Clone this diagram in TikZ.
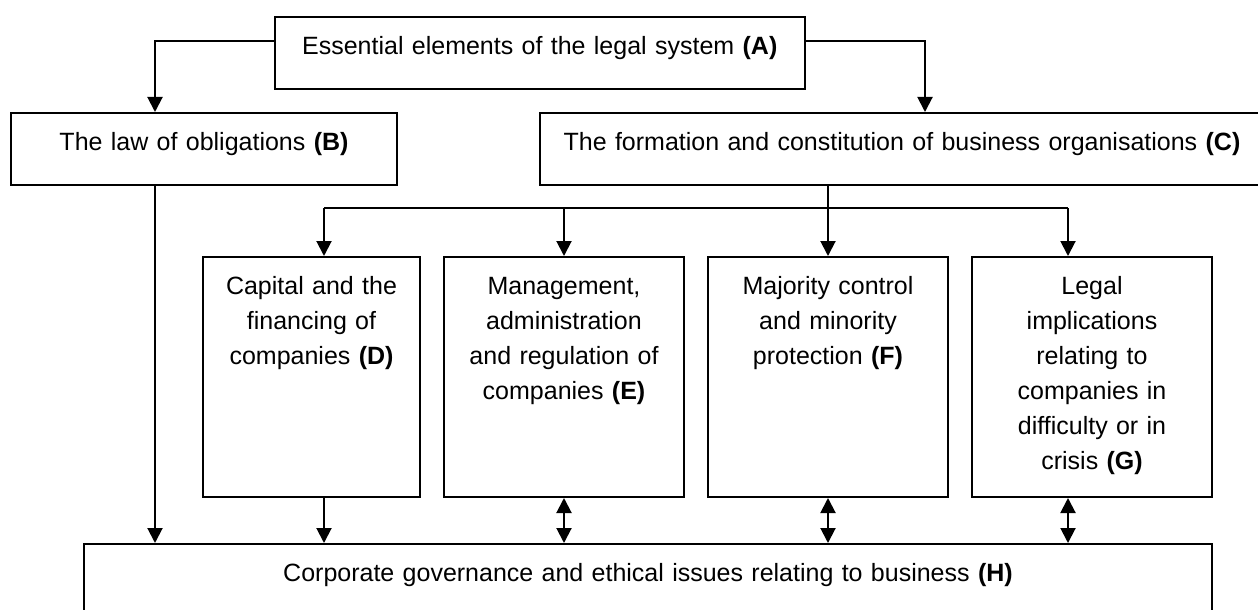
\documentclass[tikz,border=0pt]{standalone}
\usepackage{fontspec}
\setmainfont{Liberation Sans}
\usetikzlibrary{arrows.meta}

\begin{document}
\begin{tikzpicture}[x=0.5pt,y=-0.5pt,line width=1pt,
    box/.style={draw,inner sep=0pt,align=center,anchor=north west,
        font=\fontsize{12.5pt}{17.5pt}\selectfont,text height=18.75pt},
    >={Triangle[length=7.5pt,width=7.5pt]}]
    \useasboundingbox (0,0) rectangle (1258,610);

    \node[box,minimum width=264.75pt,text width=256pt,text depth=17.25pt](a) at (274,16)
        {Essential elements of the legal system \textbf{(A)}};
    \node[box,minimum width=193pt,text width=185pt,text depth=17.25pt](b) at (10,112)
        {The law of obligations \textbf{(B)}};
    \node[box,minimum width=362pt,text width=354pt,text depth=17.25pt](c) at (539,112)
        {The formation and constitution of business organisations \textbf{(C)}};

    \node[box,minimum width=108.5pt,text width=102pt,text depth=101.25pt](d) at (202,256)
        {Capital and the\\ financing of\\ companies \textbf{(D)}};
    \node[box,minimum width=120pt,text width=114pt,text depth=101.25pt](e) at (443,256)
        {Management,\\ administration\\ and regulation of\\ companies \textbf{(E)}};
    \node[box,minimum width=120pt,text width=114pt,text depth=101.25pt](f) at (707,256)
        {Majority control\\ and minority\\ protection \textbf{(F)}};
    \node[box,minimum width=120pt,text width=114pt,text depth=101.25pt](g) at (971,256)
        {Legal\\ implications\\ relating to\\ companies in\\ difficulty or in\\ crisis \textbf{(G)}};

    \node[box,minimum width=564pt,text width=556pt,text depth=22pt](h) at (83,543)
        {Corporate governance and ethical issues relating to business \textbf{(H)}};

    \draw[->]([yshift=6pt]a.west) -| ([xshift=-24.5pt]b.north);
    \draw[->]([yshift=6pt]a.east) -| ([xshift=11.5pt]c.north);

    \coordinate (bus) at (0,208);
    \coordinate (dtop) at ([xshift=6.25pt]d.north);
    \coordinate (gtop) at ([xshift=-12pt]g.north);
    \coordinate (gbot) at (gtop |- g.south);
    \draw (dtop |- bus) -- (gtop |- bus);
    \draw[->](f.north |- c.south) -- (f.north);
    \foreach \n in {dtop,e.north,gtop}
        \draw[->](\n |- bus) -- (\n);

    \draw[->]([xshift=-24.5pt]b.south) -- ([xshift=-24.5pt]b.south |- h.north);
    \draw[->](dtop |- d.south) -- (dtop |- h.north);
    \foreach \n in {e.south,f.south,gbot}
        \draw[<->](\n) -- (\n |- h.north);
\end{tikzpicture}
\end{document}
